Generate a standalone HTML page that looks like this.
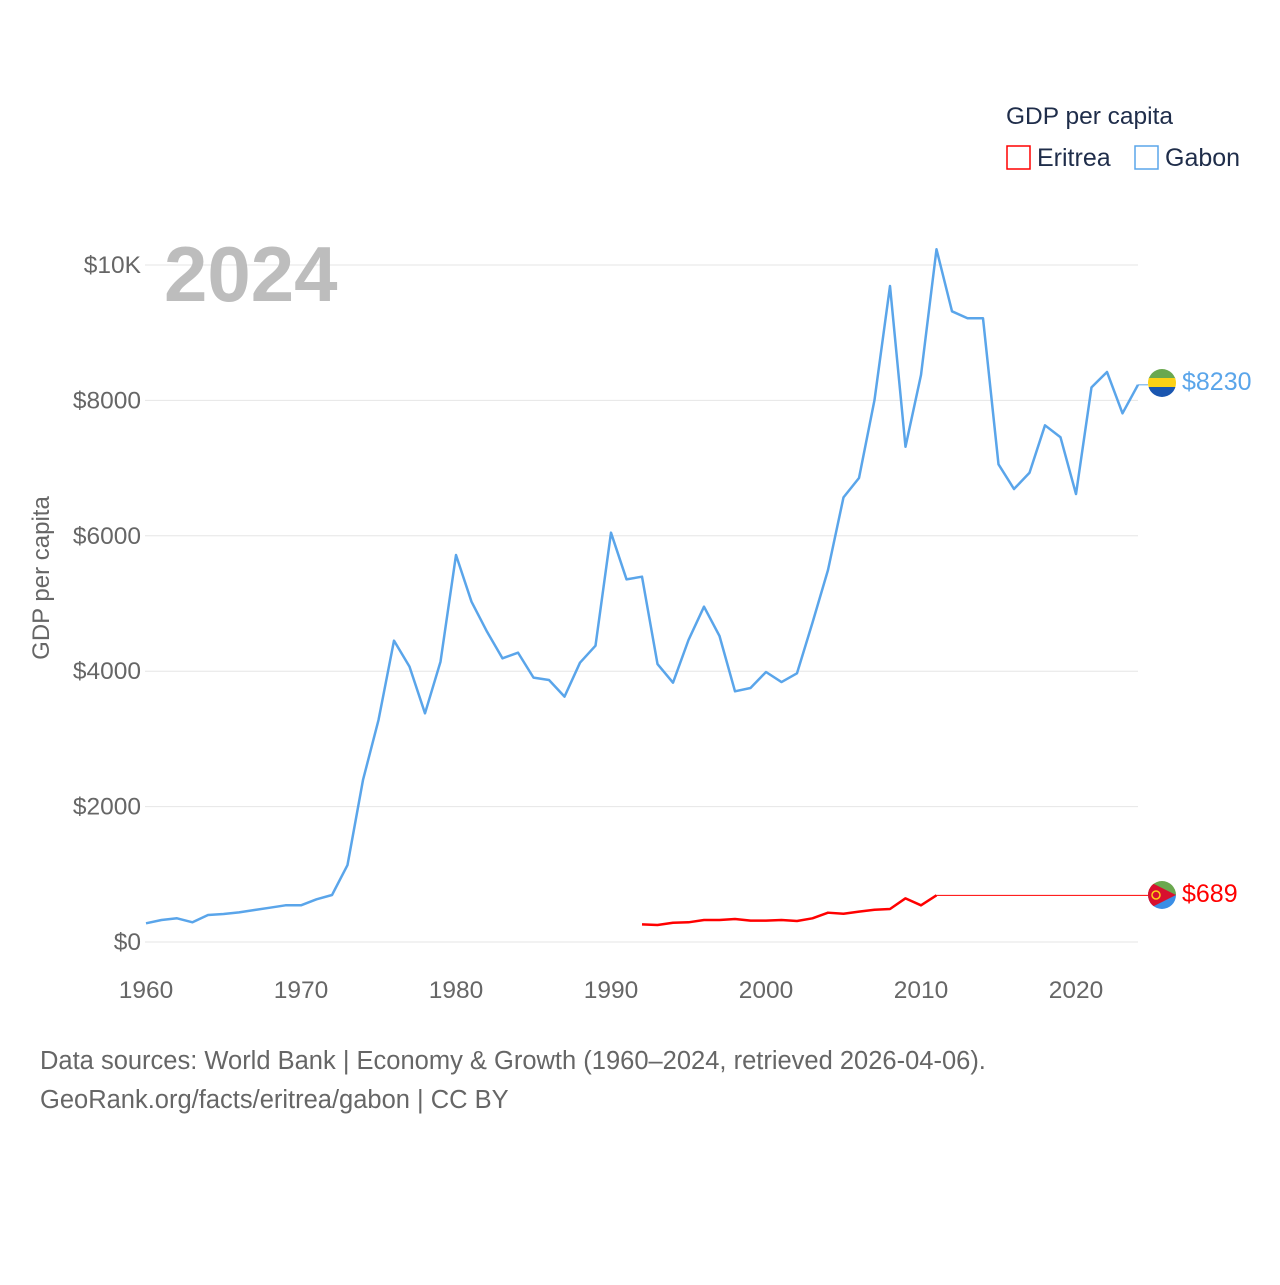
<!DOCTYPE html>
<html><head><meta charset="utf-8"><style>
body{margin:0;background:#fff;font-family:"Liberation Sans",sans-serif}
svg text{font-family:"Liberation Sans",sans-serif}
</style></head><body>
<svg width="1280" height="1280" viewBox="0 0 1280 1280">
<g id="grid"></g>
<g id="yt"></g>
<g id="xt"></g>
<text x="164" y="301" font-size="78" font-weight="bold" fill="#bdbdbd">2024</text>
<text transform="translate(49,578) rotate(-90)" text-anchor="middle" font-size="24" fill="#666">GDP per capita</text>
<g id="series"></g>
<text x="1006" y="124" font-size="24.5" fill="#1f2d4a">GDP per capita</text>
<g><rect x="1007" y="146" width="23" height="23" fill="none" stroke="#f00" stroke-width="1.5"/><text x="1037" y="166" font-size="25" fill="#1f2d4a">Eritrea</text></g>
<g><rect x="1135" y="146" width="23" height="23" fill="none" stroke="#5aa5ea" stroke-width="1.5"/><text x="1165" y="166" font-size="25" fill="#1f2d4a">Gabon</text></g>
<g><clipPath id="cg"><circle cx="1162" cy="383" r="14"/></clipPath><g clip-path="url(#cg)"><rect x="1148" y="369" width="28" height="10" fill="#6aa84f"/><rect x="1148" y="378" width="28" height="10" fill="#fcd116"/><rect x="1148" y="387" width="28" height="10" fill="#1a56b0"/></g></g>
<g><clipPath id="ce"><circle cx="1162" cy="895" r="14"/></clipPath><g clip-path="url(#ce)"><rect x="1148" y="881" width="28" height="14" fill="#6aa84f"/><rect x="1148" y="895" width="28" height="14" fill="#3a8ee6"/><polygon points="1148,881 1176,895 1148,909" fill="#d8102e"/><circle cx="1156" cy="895" r="4" fill="none" stroke="#fcd116" stroke-width="1.5"/></g></g>
<text x="1182" y="390" font-size="25" fill="#5aa5ea">$8230</text>
<text x="1182" y="902" font-size="25" fill="#f00">$689</text>
<text x="40" y="1069" font-size="25.5" fill="#666">Data sources: World Bank | Economy &amp; Growth (1960–2024, retrieved 2026-04-06).</text>
<text x="40" y="1108" font-size="25.5" fill="#666">GeoRank.org/facts/eritrea/gabon | CC BY</text>
</svg>
<script>
const yTickVals=[0,2000,4000,6000,8000,10000];
const yTickLabels=["$0","$2000","$4000","$6000","$8000","$10K"];
const xTickVals=[1960,1970,1980,1990,2000,2010,2020];
const gabonStart=1960;
const gabonVals=[276,325,350,291,399,414,438,473,507,542,542,630,694,1137,2393,3279,4451,4067,3378,4140,5716,5027,4584,4190,4274,3905,3870,3624,4126,4377,6046,5357,5396,4106,3830,4461,4953,4520,3703,3752,3988,3840,3969,4717,5495,6568,6854,8006,9690,7316,8375,10232,9316,9213,9213,7056,6691,6932,7632,7455,6617,8193,8420,7809,8230];
const eritreaStart=1992;
const eritreaVals=[261,251,285,291,325,325,340,315,315,325,310,350,433,418,448,477,487,645,542,689];
const lastYear=2024;
const NS="http://www.w3.org/2000/svg";
const X=y=>146+(y-1960)*15.5;
const Y=v=>942-v*0.0677;
function mk(t,a,p){const e=document.createElementNS(NS,t);for(const k in a)e.setAttribute(k,a[k]);p.appendChild(e);return e;}
const grid=document.getElementById('grid'),yt=document.getElementById('yt'),xt=document.getElementById('xt'),ser=document.getElementById('series');
yTickVals.forEach((v,i)=>{
 const l=mk('line',{x1:145,x2:1138,y1:Y(v),y2:Y(v),stroke:'#e6e6e6','stroke-width':1},grid);
 
 
 const t=mk('text',{x:141,y:Y(v)+8,'text-anchor':'end','font-size':24.5,fill:'#666'},yt);t.textContent=yTickLabels[i];
 
 
});
xTickVals.forEach(v=>{
 const t=mk('text',{x:X(v),y:998,'text-anchor':'middle','font-size':24.5,fill:'#666'},xt);t.textContent=v;
 
 
});
function series(vals,start,color,name){
 const pts=vals.map((v,i)=>X(start+i)+','+Y(v)).join(' ');
 const p=mk('polyline',{points:pts,fill:'none',stroke:color,'stroke-width':2.5,'stroke-linejoin':'round'},ser);
 
 
 const lastX=X(start+vals.length-1),lv=vals[vals.length-1];
 const c=mk('line',{x1:lastX,x2:1148,y1:Y(lv),y2:Y(lv),stroke:color,'stroke-width':1},ser);
 
 
}
series(gabonVals,gabonStart,'#5aa5ea','gabon');
series(eritreaVals,eritreaStart,'#f00','eritrea');
</script>
</body></html>
